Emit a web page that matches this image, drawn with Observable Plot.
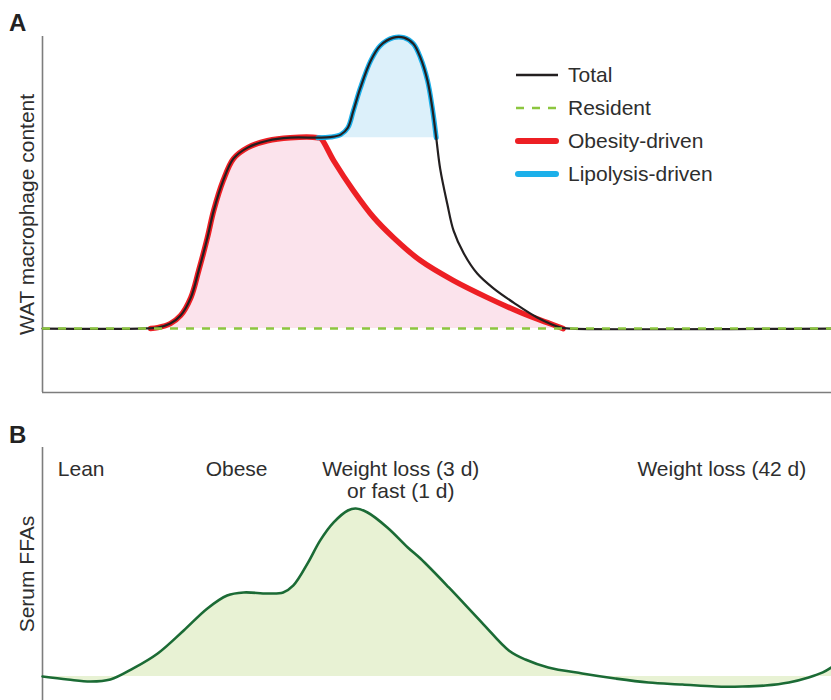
<!DOCTYPE html>
<html>
<head>
<meta charset="utf-8">
<script src="https://cdn.jsdelivr.net/npm/d3@7"></script>
<script src="https://cdn.jsdelivr.net/npm/@observablehq/plot@0.6"></script>
<style>
  body { margin: 0; background: #fff; font-family: "Liberation Sans", Arial, Helvetica, sans-serif; color: #2e2e2e; }
  #wrap { position: relative; width: 831px; height: 700px; overflow: hidden; }
  .panel { position: absolute; left: 0; }
  .tag { position: absolute; left: 9px; font-weight: bold; font-size: 24px; color: #222; line-height: 1; }
  #legend { position: absolute; left: 514px; top: 58px; }
  .row { display: flex; align-items: center; height: 33px; font-size: 21px; color: #2e2e2e; }
  .row svg { margin-right: 8px; }
</style>
</head>
<body>
<div id="wrap">
  <div class="panel" id="panelA" style="top:0"></div>
  <div class="panel" id="panelB" style="top:400px"></div>
  <div class="tag" style="top:11px">A</div>
  <div class="tag" style="top:423px">B</div>
  <div id="legend"></div>
</div>
<script>
// ---------- Panel A data: time (0–100) vs WAT macrophage content (resident baseline = 0, obese plateau = 100)
const totalSeries = [
  [0,0],[12.4,0],[14.6,0.5],[16.2,2.6],[17.5,6.8],[18.8,16.2],[19.8,30.4],[20.9,47.6],[21.7,61.8],
  [22.9,77.5],[24.2,89.0],[26.0,94.8],[28.5,98.4],[31.4,100],[34.9,100],[36.5,100.3],[37.8,101.6],
  [38.7,105.2],[39.4,114.1],[40.3,126.2],[41.6,140.3],[42.8,148.2],[44.5,152.4],[45.8,152.4],
  [47.0,149.2],[47.9,141.9],[48.8,129.8],[49.4,115.7],[49.9,100],[50.4,83.8],[51.3,65.4],[52.1,51.3],
  [53.4,39.3],[55.1,28.8],[57.2,20.9],[59.7,13.6],[62.7,5.8],[65.7,0.5],[66.9,0],[100,0]
];
const obesitySeries = [
  [13.7,0],[14.6,0.5],[16.2,2.6],[17.5,6.8],[18.8,16.2],[19.8,30.4],[20.9,47.6],[21.7,61.8],
  [22.9,77.5],[24.2,89.0],[26.0,94.8],[28.5,98.4],[31.4,100],[34.9,100],[35.3,99.5],[36.9,88.0],
  [39.4,72.3],[42.0,58.1],[44.5,47.6],[47.9,35.6],[52.1,25.1],[56.4,16.2],[60.6,8.4],[64.0,3.1],[66.0,0]
];
const lipolysisSeries = [
  [34.9,100],[36.5,100.3],[37.8,101.6],[38.7,105.2],[39.4,114.1],[40.3,126.2],[41.6,140.3],[42.8,148.2],
  [44.5,152.4],[45.8,152.4],[47.0,149.2],[47.9,141.9],[48.8,129.8],[49.4,115.7],[49.9,100]
];
const residentLevel = 0;
const obesePlateau = 100;
const yDomainA = [-33.5, 153];

// ---------- Panel B data: time vs serum FFAs (baseline = 0, peak = 100)
const ffaSeries = [
  [0,0],[3.2,-1.8],[6.1,-3.0],[8.6,-1.8],[11.5,4.8],[14.6,13.7],[17.9,27.4],[20.9,40.5],[23.4,48.2],
  [25.5,50.0],[28.5,49.4],[30.5,50.0],[31.8,54.2],[33.6,67.3],[35.2,81.0],[36.9,91.7],[38.7,98.8],
  [39.7,100],[41.2,97.6],[43.7,88.7],[46.3,76.8],[47.9,70.2],[51.5,53.0],[55.8,31.5],[59.1,15.5],
  [61.2,10.1],[64.1,5.4],[68.4,1.8],[72.6,-1.2],[76.8,-3.6],[81.1,-4.8],[85.3,-6.0],[88.7,-6.0],
  [91.6,-5.4],[94.6,-3.6],[97.1,-0.6],[98.9,2.4],[100,5.4]
];
const ffaBaseline = 0;
const yDomainB = [-14.3, 136.3];
const stageLabels = ["Lean", "Obese", "Weight loss (3 d)\nor fast (1 d)", "Weight loss (42 d)"];
const stageAt = [4.9, 24.6, 45.4, 86.1];

const legendNames = ["Total", "Resident", "Obesity-driven", "Lipolysis-driven"];

const C = {
  total: "#231f20", resident: "#8cc63f", obesity: "#ed1f24", lipo: "#1cb0ea",
  pink: "#fbe3ec", blue: "#dcf0fa", green: "#e8f2d4", ffa: "#1b6b35", axis: "#7d7d7d", text: "#2e2e2e"
};
const FONT = "'Liberation Sans', Arial, Helvetica, sans-serif";
const X = d => d[0], Y = d => d[1];
const curve = "catmull-rom";

const plotA = Plot.plot({
  width: 831, height: 400,
  marginLeft: 42, marginRight: 0, marginTop: 36, marginBottom: 8,
  x: {domain: [0, 100], axis: null},
  y: {domain: yDomainA, axis: null},
  style: {fontFamily: FONT, background: "transparent", overflow: "visible"},
  marks: [
    Plot.areaY(obesitySeries, {x: X, y1: residentLevel, y2: Y, fill: C.pink, curve}),
    Plot.areaY(lipolysisSeries, {x: X, y1: obesePlateau, y2: Y, fill: C.blue, curve}),
    Plot.ruleX([0], {stroke: C.axis, strokeWidth: 1.6}),
    Plot.ruleY([yDomainA[0]], {stroke: C.axis, strokeWidth: 1.6}),
    Plot.line(obesitySeries, {x: X, y: Y, stroke: C.obesity, strokeWidth: 5.5, curve}),
    Plot.line(lipolysisSeries, {x: X, y: Y, stroke: C.lipo, strokeWidth: 5, curve}),
    Plot.line(totalSeries, {x: X, y: Y, stroke: C.total, strokeWidth: 2.2, curve}),
    Plot.ruleY([residentLevel], {stroke: C.resident, strokeWidth: 2.5, strokeDasharray: "8,8"}),
    Plot.text(["WAT macrophage content"], {frameAnchor: "left", rotate: -90, dx: -9, lineAnchor: "bottom",
      textAnchor: "middle", fontSize: 21, fill: C.text})
  ]
});
document.getElementById("panelA").appendChild(plotA);

const plotB = Plot.plot({
  width: 831, height: 300,
  marginLeft: 42, marginRight: 0, marginTop: 47, marginBottom: 0,
  x: {domain: [0, 100], axis: null},
  y: {domain: yDomainB, axis: null},
  style: {fontFamily: FONT, background: "transparent", overflow: "visible"},
  marks: [
    Plot.areaY(ffaSeries, {x: X, y1: ffaBaseline, y2: Y, fill: C.green, curve}),
    Plot.ruleX([0], {stroke: C.axis, strokeWidth: 1.6}),
    Plot.line(ffaSeries, {x: X, y: Y, stroke: C.ffa, strokeWidth: 2.6, curve}),
    Plot.text(stageLabels, {x: (d, i) => stageAt[i], frameAnchor: "top", dy: 13, lineAnchor: "top",
      lineHeight: 1.05, textAnchor: "middle", fontSize: 21, fill: C.text}),
    Plot.text(["Serum FFAs"], {frameAnchor: "left", rotate: -90, dx: -9, lineAnchor: "bottom",
      textAnchor: "middle", fontSize: 21, fill: C.text})
  ]
});
document.getElementById("panelB").appendChild(plotB);

// Legend
const swatches = [
  {stroke: C.total, w: 2.4, dash: null, cap: "butt"},
  {stroke: C.resident, w: 2.5, dash: "8,8", cap: "butt"},
  {stroke: C.obesity, w: 6, dash: null, cap: "round"},
  {stroke: C.lipo, w: 6, dash: null, cap: "round"}
];
const legend = d3.select("#legend");
legendNames.forEach((name, i) => {
  const s = swatches[i];
  const row = legend.append("div").attr("class", "row");
  const svg = row.append("svg").attr("width", 46).attr("height", 12);
  const inset = s.cap === "round" ? 4 : 2;
  svg.append("line").attr("x1", inset).attr("x2", 46 - inset).attr("y1", 6).attr("y2", 6)
    .attr("stroke", s.stroke).attr("stroke-width", s.w).attr("stroke-linecap", s.cap)
    .attr("stroke-dasharray", s.dash);
  row.append("span").text(name);
});
</script>
</body>
</html>
